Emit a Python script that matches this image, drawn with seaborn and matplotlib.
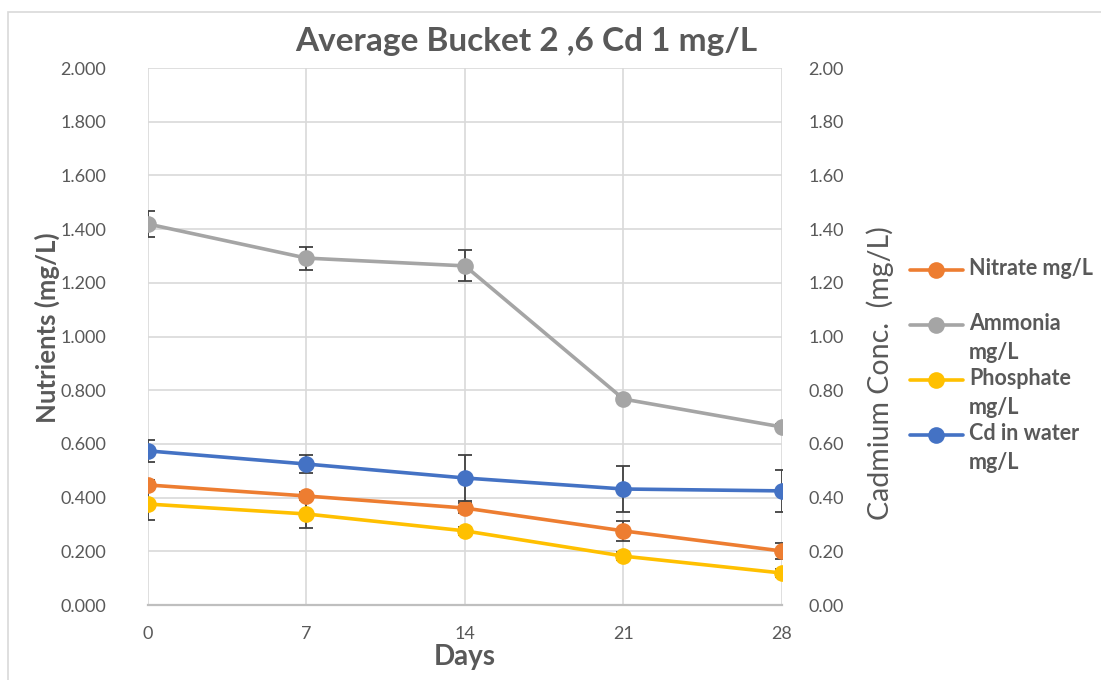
import numpy as np
import pandas as pd
import matplotlib.pyplot as plt
from matplotlib.lines import Line2D
from matplotlib.patches import Rectangle
from matplotlib.ticker import FixedLocator, FormatStrFormatter
import seaborn as sns

## Values
days = [0, 7, 14, 21, 28]
nitrate = [0.447, 0.406, 0.361, 0.276, 0.201]
ammonia = [1.419, 1.292, 1.263, 0.767, 0.663]
phosphate = [0.376, 0.339, 0.276, 0.182, 0.119]
cd_water = [0.574, 0.525, 0.473, 0.432, 0.425]

nitrate_err = [0.02, 0.015, 0.02, 0.036, 0.03]
ammonia_err = [0.048, 0.043, 0.058, 0.01, 0.01]
phosphate_err = [0.06, 0.052, 0.015, 0.015, 0.015]
cd_err = [0.041, 0.035, 0.086, 0.086, 0.078]

series_names = ["Nitrate mg/L", "Ammonia mg/L", "Phosphate mg/L", "Cd in water mg/L"]
legend_labels = ["Nitrate mg/L", "Ammonia\nmg/L", "Phosphate\nmg/L", "Cd in water\nmg/L"]
colors = ["#ED7D31", "#A5A5A5", "#FFC000", "#4472C4"]

nutrients = pd.DataFrame({
    "day": days * 3,
    "value": nitrate + ammonia + phosphate,
    "err": nitrate_err + ammonia_err + phosphate_err,
    "series": [series_names[0]] * 5 + [series_names[1]] * 5 + [series_names[2]] * 5,
})
cadmium = pd.DataFrame({"day": days, "value": cd_water, "err": cd_err})
palette = dict(zip(series_names, colors))

sns.set_style("white")
plt.rcParams["font.family"] = ["Lato", "DejaVu Sans"]
txt = "#595959"
grid_c = "#D9D9D9"

W, H = 1101, 680
fig = plt.figure(figsize=(W / 100, H / 100), dpi=100)
ax = fig.add_axes([148 / W, 75 / H, (782 - 148) / W, (605 - 68) / H])
ax2 = ax.twinx()

# error bars sit under the markers
for name, grp in nutrients.groupby("series", sort=False):
    ax.errorbar(grp["day"], grp["value"], yerr=grp["err"], fmt="none",
                ecolor="#404040", elinewidth=1.3, capsize=5, capthick=1.3, zorder=2)

sns.lineplot(data=nutrients, x="day", y="value", hue="series", palette=palette,
             marker="o", markersize=12, markeredgewidth=0, linewidth=2.6,
             legend=False, ax=ax, zorder=3)

ax2.errorbar(cadmium["day"], cadmium["value"], yerr=cadmium["err"], fmt="none",
             ecolor="#404040", elinewidth=1.3, capsize=5, capthick=1.3, zorder=2)
sns.lineplot(data=cadmium, x="day", y="value", color=colors[3], marker="o",
             markersize=12, markeredgewidth=0, linewidth=2.6, ax=ax2, zorder=3)

for a in (ax, ax2):
    a.set_xlim(0, 28)
    a.set_ylim(0, 2.0)
    a.set_xlabel("")
    a.set_ylabel("")
    for s in a.spines.values():
        s.set_visible(False)

ax.set_yticks(np.arange(0, 2.01, 0.2))
ax.yaxis.set_major_formatter(FormatStrFormatter("%.3f"))
ax2.set_yticks(np.arange(0, 2.01, 0.2))
ax2.yaxis.set_major_formatter(FormatStrFormatter("%.2f"))
ax.set_xticks(days)
ax.xaxis.set_minor_locator(FixedLocator(np.arange(0, 28.01, 1.4)))

ax.grid(True, which="major", color=grid_c, linewidth=1.2)
ax.set_axisbelow(True)
ax.spines["bottom"].set_visible(True)
ax.spines["bottom"].set_color("#BFBFBF")
ax.spines["bottom"].set_linewidth(1.6)

ax.tick_params(axis="y", length=0, pad=30, labelsize=13, labelcolor=txt)
ax2.tick_params(axis="y", length=0, pad=19, labelsize=13, labelcolor=txt)
ax.tick_params(axis="x", which="major", length=0, pad=15, labelsize=13, labelcolor=txt)
ax.tick_params(axis="x", which="minor", direction="in", length=5, width=1.2, color="#BFBFBF")

# titles and axis labels
fig.text(526 / W, 1 - 42 / H, "Average Bucket 2 ,6 Cd 1 mg/L", ha="center", va="center",
         fontsize=24, fontweight="bold", color=txt)
fig.text(47 / W, 1 - 328 / H, "Nutrients (mg/L)", ha="center", va="center", rotation=90,
         fontsize=18.5, fontweight="bold", color=txt)
fig.text(880 / W, 1 - 373 / H, "Cadmium Conc.  (mg/L)", ha="center", va="center", rotation=90,
         fontsize=20.5, color=txt)
fig.text(465 / W, 1 - 657 / H, "Days", ha="center", va="center",
         fontsize=20, fontweight="bold", color=txt)

# legend on the right
rows = [270, 325, 380, 435]
for lab, col, y in zip(legend_labels, colors, rows):
    yf = 1 - y / H
    fig.add_artist(Line2D([910 / W, 963 / W], [yf, yf], color=col, linewidth=2.6,
                          transform=fig.transFigure))
    fig.add_artist(Line2D([936 / W], [yf], color=col, marker="o", markersize=12,
                          markeredgewidth=0, transform=fig.transFigure))
    fig.text(969 / W, yf + 12 / H, lab, ha="left", va="top", fontsize=15.5,
             fontweight="bold", color=txt, linespacing=1.45)

# outer chart border
fig.patches.append(Rectangle((8 / W, -0.1), 1.2, 1.1 - 12 / H, transform=fig.transFigure,
                             fill=False, edgecolor=grid_c, linewidth=1.2))

fig.savefig("out.png", dpi=100)
